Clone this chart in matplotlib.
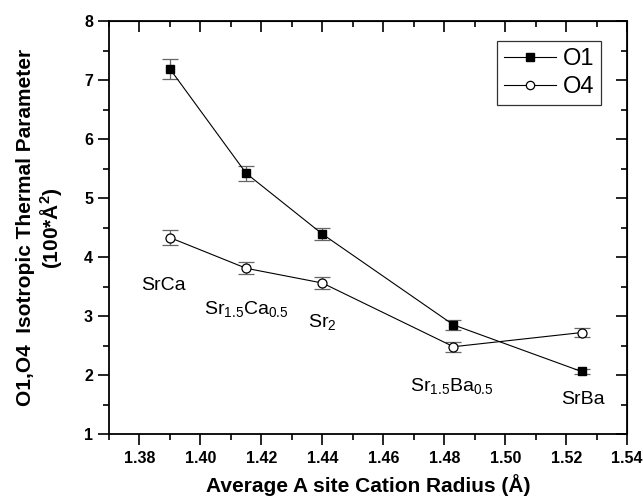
import matplotlib
matplotlib.use('Agg')
import matplotlib.pyplot as plt
from matplotlib.ticker import MultipleLocator

plt.rcParams['font.family'] = ['Liberation Sans', 'DejaVu Sans']
plt.rcParams['mathtext.fontset'] = 'custom'
plt.rcParams['mathtext.rm'] = 'Liberation Sans'
plt.rcParams['mathtext.bf'] = 'Liberation Sans:bold'

radius = [1.39, 1.415, 1.44, 1.483, 1.525]
o1 = [7.19, 5.42, 4.39, 2.85, 2.06]
o1_err = [0.17, 0.13, 0.10, 0.09, 0.05]
o4 = [4.33, 3.81, 3.56, 2.48, 2.72]
o4_err = [0.13, 0.10, 0.10, 0.085, 0.08]

names = ['SrCa', r'Sr$_{1.5}$Ca$_{0.5}$', r'Sr$_{2}$', r'Sr$_{1.5}$Ba$_{0.5}$', 'SrBa']
name_x = [1.388, 1.415, 1.440, 1.4826, 1.5255]
name_y = [3.52, 3.10, 2.88, 1.80, 1.58]

fig = plt.figure(figsize=(6.43, 4.98), dpi=100)
ax = fig.add_axes([0.1695, 0.1285, 0.806, 0.829])

ax.errorbar(radius, o1, yerr=o1_err, fmt='none', ecolor='#666666', elinewidth=0.9,
            capsize=6, capthick=0.9, zorder=1)
ax.errorbar(radius, o4, yerr=o4_err, fmt='none', ecolor='#666666', elinewidth=0.9,
            capsize=6, capthick=0.9, zorder=1)
ax.plot(radius, o1, '-s', color='black', lw=0.8, ms=6, mfc='black', label='O1', zorder=3)
ax.plot(radius, o4, '-o', color='black', lw=0.8, ms=6.5, mfc='white', mew=0.9, label='O4', zorder=3)

for t, xx, yy in zip(names, name_x, name_y):
    ax.text(xx, yy, t, ha='center', va='center', fontsize=14)

ax.set_xlim(1.37, 1.54)
ax.set_ylim(1, 8)
ax.xaxis.set_minor_locator(MultipleLocator(0.01))
ax.yaxis.set_major_locator(MultipleLocator(1))
ax.yaxis.set_minor_locator(MultipleLocator(0.5))
xt = [1.38, 1.40, 1.42, 1.44, 1.46, 1.48, 1.50, 1.52, 1.54]
ax.set_xticks(xt)
ax.set_xticklabels(['%.2f' % v for v in xt])

ax.tick_params(which='both', direction='out', width=1.2, labelsize=11.5)
ax.tick_params(which='major', length=8)
ax.tick_params(which='minor', length=4)
ax.tick_params(axis='x', pad=4)
for lab in ax.get_xticklabels() + ax.get_yticklabels():
    lab.set_fontweight('bold')

# inward ticks on top and right
sec_x = ax.secondary_xaxis('top')
sec_x.set_xticks(xt)
sec_x.xaxis.set_minor_locator(MultipleLocator(0.01))
sec_x.tick_params(which='both', direction='in', width=1.2, labeltop=False)
sec_x.tick_params(which='major', length=8)
sec_x.tick_params(which='minor', length=4)
sec_y = ax.secondary_yaxis('right')
sec_y.yaxis.set_major_locator(MultipleLocator(1))
sec_y.yaxis.set_minor_locator(MultipleLocator(0.5))
sec_y.tick_params(which='both', direction='in', width=1.2, labelright=False)
sec_y.tick_params(which='major', length=8)
sec_y.tick_params(which='minor', length=4)

for s in ax.spines.values():
    s.set_linewidth(1.3)

ax.set_xlabel(r'Average A site Cation Radius (Å)', fontsize=15, fontweight='bold', labelpad=6)
ax.set_ylabel('O1,O4  Isotropic Thermal Parameter\n(100*Å$^\\mathbf{2}$)', fontsize=15,
              fontweight='bold', labelpad=14, linespacing=1.15)

leg = ax.legend(loc='upper right', bbox_to_anchor=(0.95, 0.952), fontsize=17, frameon=True,
                fancybox=False, edgecolor='black', handlelength=2.2, borderpad=0.3,
                handletextpad=0.3, labelspacing=0.25, borderaxespad=0)
leg.get_frame().set_linewidth(0.9)
for h in leg.legend_handles:
    h.set_markersize(6)

fig.savefig('out.png', dpi=100)
